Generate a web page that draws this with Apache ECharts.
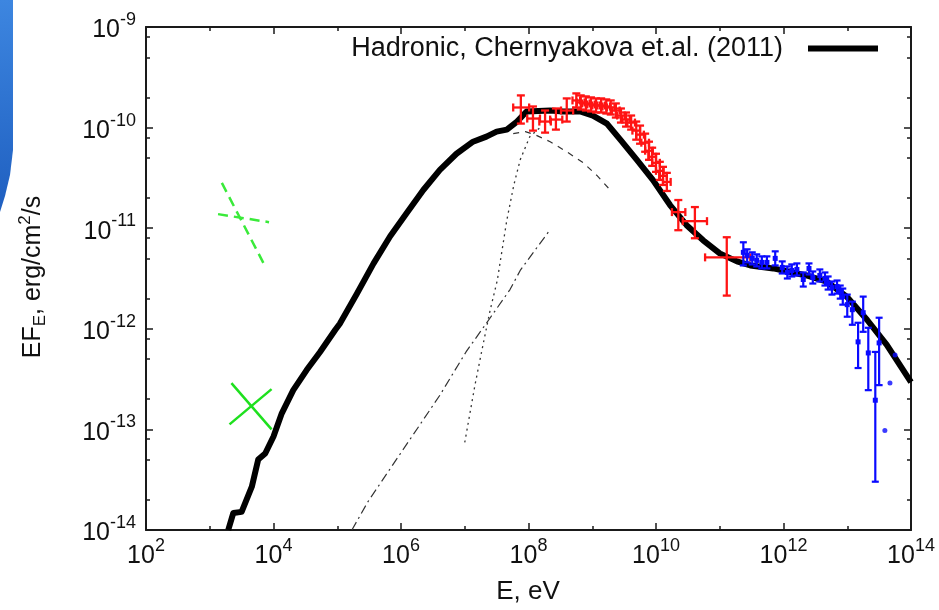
<!DOCTYPE html>
<html><head><meta charset="utf-8">
<script src="https://cdn.jsdelivr.net/npm/echarts@6/dist/echarts.min.js"></script>
<style>html,body{margin:0;padding:0;background:#fff}#c{width:939px;height:610px}</style>
</head><body><div id="c"></div>
<script>
// All values are log10: E in eV, EF_E in erg/cm^2/s
const xTickVals = [2, 4, 6, 8, 10, 12, 14];
const yTickVals = [-14, -13, -12, -11, -10, -9];
const yMinorMult = [2, 5, 8];
const legendName = 'Hadronic, Chernyakova et.al. (2011)';

const modelE = [3.29, 3.37, 3.50, 3.66, 3.76, 3.87, 4.00, 4.13, 4.31, 4.52, 4.73, 4.97, 5.04, 5.31, 5.57, 5.83, 6.09, 6.35, 6.61, 6.87, 7.13, 7.34, 7.50, 7.66, 7.82, 7.97, 8.34, 8.54, 8.81, 9.01, 9.23, 9.44, 9.70, 9.95, 10.22, 10.48, 10.74, 11.00, 11.27, 11.48, 11.84, 12.36, 12.68, 12.99, 13.31, 13.62, 14.00];
const modelF = [-14.00, -13.83, -13.82, -13.57, -13.30, -13.24, -13.07, -12.84, -12.61, -12.41, -12.23, -12.01, -11.95, -11.65, -11.35, -11.08, -10.85, -10.62, -10.42, -10.26, -10.14, -10.09, -10.04, -10.02, -9.94, -9.84, -9.83, -9.84, -9.84, -9.88, -9.96, -10.12, -10.32, -10.52, -10.77, -10.97, -11.12, -11.25, -11.33, -11.37, -11.40, -11.47, -11.53, -11.68, -11.91, -12.16, -12.53];

const dashedE = [7.76, 7.95, 8.10, 8.34, 8.60, 8.86, 9.08, 9.31];
const dashedF = [-10.06, -10.04, -10.07, -10.14, -10.24, -10.35, -10.48, -10.64];

const dottedE = [7.00, 7.16, 7.27, 7.40, 7.51, 7.66, 7.77, 7.87, 8.02, 8.18];
const dottedF = [-13.13, -12.56, -12.21, -11.81, -11.52, -10.92, -10.57, -10.32, -10.09, -10.00];

const dashDotE = [5.23, 5.48, 5.98, 6.61, 7.02, 7.40, 7.71, 7.87, 8.10, 8.31];
const dashDotF = [-14.00, -13.72, -13.25, -12.66, -12.23, -11.89, -11.61, -11.42, -11.22, -11.04];

const greenSolidA_E = [3.34, 3.97], greenSolidA_F = [-12.54, -13.00];
const greenSolidB_E = [3.31, 3.97], greenSolidB_F = [-12.95, -12.60];
const greenDashA_E = [3.19, 3.87], greenDashA_F = [-10.55, -11.38];
const greenDashB_E = [3.13, 3.93], greenDashB_F = [-10.86, -10.94];

const redE    = [7.88, 8.07, 8.26, 8.43, 8.60, 8.75, 8.82, 8.90, 8.98, 9.06, 9.14, 9.22, 9.29, 9.37, 9.45, 9.53, 9.61, 9.69, 9.75, 9.83, 9.89, 9.94, 10.00, 10.06, 10.11, 10.17, 10.35, 10.61, 11.11];
const redF    = [-9.80, -9.91, -9.94, -9.92, -9.83, -9.73, -9.75, -9.76, -9.77, -9.78, -9.78, -9.79, -9.80, -9.83, -9.88, -9.92, -9.95, -10.03, -10.07, -10.15, -10.23, -10.29, -10.35, -10.43, -10.48, -10.54, -10.84, -10.93, -11.29];
const redElo  = [7.76, 7.98, 8.17, 8.34, 8.51, 8.69, 8.76, 8.84, 8.92, 9.00, 9.08, 9.16, 9.23, 9.31, 9.39, 9.47, 9.55, 9.63, 9.69, 9.77, 9.83, 9.88, 9.94, 10.00, 10.05, 10.11, 10.25, 10.42, 10.77];
const redEhi  = [8.01, 8.18, 8.35, 8.53, 8.70, 8.81, 8.88, 8.96, 9.04, 9.12, 9.20, 9.28, 9.35, 9.43, 9.51, 9.59, 9.67, 9.75, 9.81, 9.89, 9.95, 10.00, 10.06, 10.12, 10.17, 10.23, 10.46, 10.80, 11.48];
const redFlo  = [-9.96, -10.03, -10.05, -10.02, -9.94, -9.80, -9.82, -9.83, -9.84, -9.85, -9.85, -9.86, -9.87, -9.90, -9.95, -9.99, -10.02, -10.12, -10.16, -10.24, -10.32, -10.38, -10.44, -10.52, -10.57, -10.63, -11.02, -11.10, -11.67];
const redFhi  = [-9.68, -9.79, -9.83, -9.81, -9.71, -9.66, -9.68, -9.69, -9.70, -9.71, -9.71, -9.72, -9.73, -9.76, -9.81, -9.85, -9.88, -9.94, -9.98, -10.06, -10.14, -10.20, -10.26, -10.34, -10.39, -10.45, -10.72, -10.79, -11.09];

const blueE   = [11.37, 11.43, 11.51, 11.58, 11.66, 11.74, 11.87, 11.98, 12.06, 12.13, 12.21, 12.31, 12.40, 12.46, 12.57, 12.65, 12.70, 12.76, 12.84, 12.89, 12.93, 13.00, 13.08, 13.17, 13.25, 13.33, 13.44, 13.50];
const blueF   = [-11.24, -11.27, -11.30, -11.32, -11.34, -11.34, -11.30, -11.39, -11.44, -11.42, -11.41, -11.51, -11.40, -11.49, -11.47, -11.50, -11.55, -11.59, -11.58, -11.63, -11.68, -11.76, -11.81, -12.13, -11.84, -12.24, -12.71, -12.14];
const blueFlo = [-11.37, -11.34, -11.36, -11.38, -11.40, -11.40, -11.37, -11.45, -11.50, -11.48, -11.47, -11.58, -11.46, -11.55, -11.53, -11.57, -11.61, -11.66, -11.65, -11.70, -11.76, -11.88, -11.96, -12.39, -12.03, -12.61, -13.52, -12.56];
const blueFhi = [-11.14, -11.21, -11.24, -11.26, -11.28, -11.28, -11.23, -11.33, -11.38, -11.36, -11.35, -11.44, -11.35, -11.43, -11.41, -11.44, -11.48, -11.53, -11.52, -11.57, -11.60, -11.66, -11.73, -11.94, -11.68, -11.99, -12.23, -11.89];
const blueOnlyE = [13.59, 13.67, 13.75];
const blueOnlyF = [-13.01, -12.54, -12.26];

// ---- build ----
const zip = (a, b) => a.map((v, i) => [v, b[i]]);
const yMinor = [];
yTickVals.slice(0, -1).forEach(d => yMinorMult.forEach(m => yMinor.push(d + Math.log10(m))));

const FONT = 'Liberation Sans, Arial, Helvetica, sans-serif';
const AX = '#1a1a1a';
const RED = '#ff1414';
const BLUE = '#0a0aff';

const labelRich = {
  b: {fontSize: 25, fontFamily: FONT, color: '#111', verticalAlign: 'bottom', lineHeight: 32},
  s: {fontSize: 18, fontFamily: FONT, color: '#111', verticalAlign: 'top', lineHeight: 18}
};
const fmt = v => '{b|10}{s|' + Math.round(v) + '}';

function axisBase(extra) {
  return Object.assign({
    type: 'value',
    axisLine: {show: true, onZero: false, lineStyle: {color: AX, width: 2}},
    axisTick: {show: true, inside: true, length: 7, lineStyle: {color: AX, width: 1.5}},
    minorTick: {show: false},
    splitLine: {show: false},
    axisLabel: {show: false}
  }, extra);
}

const xCommon = {min: 2, max: 14, interval: 2};
const yCommon = {min: -14, max: -9, interval: 1};

function renderXY(params, api) {
  const c = api.coord([api.value(0), api.value(1)]);
  const l = api.coord([api.value(2), api.value(1)]);
  const r = api.coord([api.value(3), api.value(1)]);
  const b = api.coord([api.value(0), api.value(4)]);
  const t = api.coord([api.value(0), api.value(5)]);
  const h = 4;
  const st = {stroke: RED, lineWidth: 2.3};
  return {type: 'group', children: [
    {type: 'line', shape: {x1: l[0], y1: c[1], x2: r[0], y2: c[1]}, style: st},
    {type: 'line', shape: {x1: c[0], y1: b[1], x2: c[0], y2: t[1]}, style: st},
    {type: 'line', shape: {x1: l[0], y1: c[1] - h, x2: l[0], y2: c[1] + h}, style: st},
    {type: 'line', shape: {x1: r[0], y1: c[1] - h, x2: r[0], y2: c[1] + h}, style: st},
    {type: 'line', shape: {x1: c[0] - h, y1: b[1], x2: c[0] + h, y2: b[1]}, style: st},
    {type: 'line', shape: {x1: c[0] - h, y1: t[1], x2: c[0] + h, y2: t[1]}, style: st}
  ]};
}
function renderY(params, api) {
  const c = api.coord([api.value(0), api.value(1)]);
  const b = api.coord([api.value(0), api.value(2)]);
  const t = api.coord([api.value(0), api.value(3)]);
  const h = 3.5;
  const st = {stroke: BLUE, lineWidth: 2.2};
  return {type: 'group', children: [
    {type: 'line', shape: {x1: c[0], y1: b[1], x2: c[0], y2: t[1]}, style: st},
    {type: 'line', shape: {x1: c[0] - h, y1: b[1], x2: c[0] + h, y2: b[1]}, style: st},
    {type: 'line', shape: {x1: c[0] - h, y1: t[1], x2: c[0] + h, y2: t[1]}, style: st},
    {type: 'rect', shape: {x: c[0] - 2.5, y: c[1] - 2.5, width: 5, height: 5}, style: {fill: BLUE}}
  ]};
}

function thinLine(name, data, color, width, type, z) {
  return {name, type: 'line', data, symbol: 'none', silent: true, z: z || 2,
    lineStyle: {color, width, type}, clip: true};
}

const option = {
  backgroundColor: '#fff',
  animation: false,
  grid: {left: 146, right: 28, top: 27, bottom: 80, containLabel: false},
  legend: {
    data: [{name: legendName, icon: 'rect'}],
    right: 56, top: 30, align: 'right',
    itemWidth: 70, itemHeight: 6,
    textStyle: {fontSize: 27, fontFamily: FONT, color: '#111', padding: [0, 20, 0, 0]},
    selectedMode: false
  },
  xAxis: [
    axisBase(Object.assign({position: 'bottom',
      minorTick: {show: true, splitNumber: 2, length: 4, lineStyle: {color: AX, width: 1.5}},
      axisLabel: {show: true, formatter: fmt, margin: 7, rich: labelRich}}, xCommon)),
    axisBase(Object.assign({position: 'top',
      minorTick: {show: true, splitNumber: 2, length: 4, lineStyle: {color: AX, width: 1.5}}}, xCommon))
  ],
  yAxis: [
    axisBase(Object.assign({position: 'left',
      axisLabel: {show: true, formatter: fmt, margin: 10, rich: labelRich}}, yCommon)),
    axisBase(Object.assign({position: 'right'}, yCommon)),
    axisBase({position: 'left', min: -14, max: -9, axisLine: {show: false},
      axisTick: {show: true, inside: true, length: 4, customValues: yMinor, lineStyle: {color: AX, width: 1.5}}}),
    axisBase({position: 'right', min: -14, max: -9, axisLine: {show: false},
      axisTick: {show: true, inside: true, length: 4, customValues: yMinor, lineStyle: {color: AX, width: 1.5}}})
  ],
  graphic: [
    {type: 'polygon', shape: {points: [[0, 0], [13, 0], [13, 150], [10, 175], [5, 196], [0, 212]]},
      style: {fill: new echarts.graphic.LinearGradient(0, 0, 1, 1, [{offset: 0, color: '#3d86e0'}, {offset: 1, color: '#1f5fc0'}])}, z: 10},
    {type: 'text', x: 33, y: 277, rotation: Math.PI / 2,
      style: {text: 'EF{sub|E}, erg/cm{sup|2}/s', align: 'center', verticalAlign: 'middle',
        rich: {
          sub: {fontSize: 17, fontFamily: FONT, fill: '#111', verticalAlign: 'bottom', lineHeight: 14},
          sup: {fontSize: 17, fontFamily: FONT, fill: '#111', verticalAlign: 'top', lineHeight: 14}
        },
        fontSize: 25, fontFamily: FONT, fill: '#111', lineHeight: 32}},
    {type: 'text', x: 528, y: 592, style: {text: 'E, eV', align: 'center', verticalAlign: 'middle', fontSize: 26, fontFamily: FONT, fill: '#111'}}
  ],
  series: [
    thinLine('dashed', zip(dashedE, dashedF), '#333', 1.2, [6, 6], 1),
    thinLine('dotted', zip(dottedE, dottedF), '#333', 1.3, [2, 4], 1),
    thinLine('dashdot', zip(dashDotE, dashDotF), '#333', 1.2, [9, 4, 2, 4], 1),
    thinLine('gsa', zip(greenSolidA_E, greenSolidA_F), '#1ee01e', 2.5, 'solid', 2),
    thinLine('gsb', zip(greenSolidB_E, greenSolidB_F), '#1ee01e', 2.5, 'solid', 2),
    thinLine('gda', zip(greenDashA_E, greenDashA_F), '#3aea3a', 2.5, [10, 6], 2),
    thinLine('gdb', zip(greenDashB_E, greenDashB_F), '#3aea3a', 2.5, [10, 6], 2),
    {name: legendName, type: 'line', data: zip(modelE, modelF), symbol: 'none', z: 3,
      itemStyle: {color: '#000'}, lineStyle: {color: '#000', width: 6, join: 'round'}},
    {name: 'red', type: 'custom', renderItem: renderXY, z: 4,
      encode: {x: [0, 2, 3], y: [1, 4, 5]},
      data: redE.map((e, i) => [e, redF[i], redElo[i], redEhi[i], redFlo[i], redFhi[i]])},
    {name: 'blue', type: 'custom', renderItem: renderY, z: 4,
      encode: {x: 0, y: [1, 2, 3]},
      data: blueE.map((e, i) => [e, blueF[i], blueFlo[i], blueFhi[i]])},
    {name: 'blueOnly', type: 'scatter', data: zip(blueOnlyE, blueOnlyF), symbol: 'circle', symbolSize: 5,
      itemStyle: {color: BLUE}, z: 4}
  ]
};
const chart = echarts.init(document.getElementById('c'), null, {renderer: 'canvas'});
chart.setOption(option);
</script></body></html>
